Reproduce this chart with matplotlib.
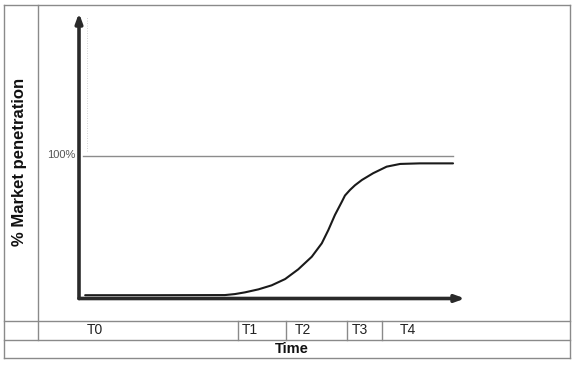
import matplotlib
matplotlib.use("Agg")
import matplotlib.pyplot as plt
import matplotlib.transforms as mtransforms

# ---- data ----
time = [1.6, 20.0, 37.8, 40.4, 43.0, 46.5, 49.9, 53.4, 56.8, 60.3, 62.9,
        64.6, 66.3, 68.1, 68.9, 70.2, 71.5, 73.3, 76.2, 79.7, 83.2, 88.3, 96.9]
penetration = [2.3, 2.3, 2.4, 3.1, 4.3, 6.4, 9.2, 13.6, 20.4, 29.2, 38.6,
               47.9, 58.4, 67.7, 72.0, 75.9, 79.2, 82.9, 87.6, 92.2, 94.1, 94.5, 94.5]
phases = ["T0", "T1", "T2", "T3", "T4"]
phase_bounds = [41.2, 53.6, 69.4, 78.5]
full_level = 100
full_label = "100%"
ylabel = "% Market penetration"
xlabel = "Time"

W, H = 573, 368
fig = plt.figure(figsize=(W / 100, H / 100), dpi=100)

# background axes in pixel coordinates for the frame/table
bg = fig.add_axes([0, 0, 1, 1])
bg.set_xlim(0, W)
bg.set_ylim(H, 0)
bg.axis("off")
fc = "#8a8a8a"
lw = 1.0
L, R, T, B = 3.5, 569.5, 4.5, 357.5
row1, row2 = 320.5, 339.5
colx = 37.5
for y in (T, row1, row2, B):
    bg.plot([L, R], [y, y], color=fc, lw=lw)
for x in (L, R):
    bg.plot([x, x], [T, B], color=fc, lw=lw)
bg.plot([colx, colx], [T, row2], color=fc, lw=lw)

# chart axes: x 0..100 time units -> px 79..465 ; y % -> 100% at px 155.5, 0 at 298.5
px0, px1 = 79, 465
py0, py100 = 298.5, 155.5
ytop_px = 13
ppu = (py0 - py100) / 100.0
ymax = (py0 - ytop_px) / ppu
ax = fig.add_axes([px0 / W, (H - py0) / H, (px1 - px0) / W, (py0 - ytop_px) / H])
ax.set_xlim(0, 100)
ax.set_ylim(0, ymax)
ax.axis("off")

arrow = dict(arrowstyle="-|>,head_length=0.55,head_width=0.2",
             color="#2a2a2a", lw=2.6, shrinkA=0, shrinkB=0)
ax.annotate("", xy=(0, ymax), xytext=(0, 0), arrowprops=arrow, annotation_clip=False)
ax.annotate("", xy=(100, 0), xytext=(0, 0), arrowprops=arrow, annotation_clip=False)

# 100% line
ax.plot([1.0, 96.9], [full_level, full_level], color="#8c8c8c", lw=1.0)
ax.text(-1.0, full_level, full_label, ha="right", va="center",
        fontsize=8, color="#555555", family="Liberation Sans")
# faint dotted guide (scan remnant)
ax.plot([2.1, 2.1], [full_level + 3, ymax - 2], color="#c4c4c4", lw=0.6, ls=(0, (1, 2)))

# S-curve
ax.plot(time, penetration, color="#1a1a1a", lw=1.5, solid_capstyle="round",
        solid_joinstyle="round")

# phase dividers in table row: x in chart data, y in bg pixel coords
trans = mtransforms.blended_transform_factory(ax.transData, bg.transData)
for b in phase_bounds:
    bg.plot([b, b], [row1, row2], color=fc, lw=lw, transform=trans)

ymid = (row1 + row2) / 2 + 0.5
tstyle = dict(ha="left", va="center", fontsize=10, family="Liberation Sans", color="#222222")
bg.text(87, ymid, phases[0], **tstyle)
label_offsets_px = [4, 9, 5, 18]
for name, s, off in zip(phases[1:], phase_bounds, label_offsets_px):
    t = mtransforms.offset_copy(trans, fig=fig, x=off * 0.72, y=0, units="points")
    bg.text(s, ymid, name, transform=t, **tstyle)

bg.text(291.5, (row2 + B) / 2 + 0.5, xlabel, ha="center", va="center",
        fontsize=10.5, fontweight="bold", family="Liberation Sans", color="#111111")
bg.text(20, 161.5, ylabel, ha="center", va="center", rotation=90,
        fontsize=12, fontweight="bold", family="Liberation Sans", color="#111111")

fig.savefig("out.png", dpi=100, facecolor="white")
